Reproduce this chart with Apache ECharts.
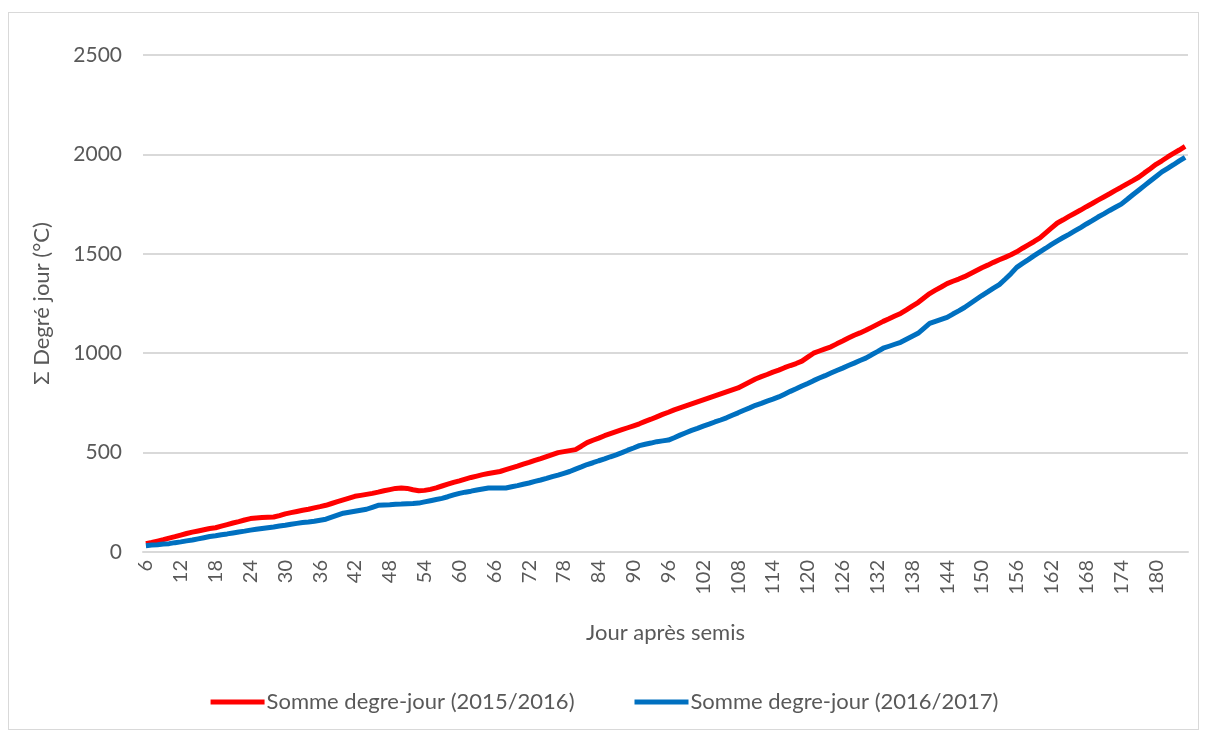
<!DOCTYPE html>
<html>
<head>
<meta charset="utf-8">
<script src="https://cdn.jsdelivr.net/npm/echarts@6/dist/echarts.min.js"></script>
<style>
  html, body { margin: 0; padding: 0; background: #fff; }
  #frame {
    position: absolute; left: 8px; top: 12px; width: 1191px; height: 718px;
    border: 1px solid #d9d9d9; box-sizing: border-box;
  }
  #chart { position: absolute; left: 0; top: 0; width: 1209px; height: 733px; }
</style>
</head>
<body>
<div id="frame"></div>
<div id="chart"></div>
<script>
// jours apres semis : 6 .. 185
const days = Array.from({ length: 180 }, (_, i) => String(i + 6))

const somme2015 = [
  42, 48, 55, 62, 70, 77, 85, 93, 100, 106, 112, 118, 122, 130, 138, 146, 153, 161, 168, 171,
  173, 175, 176, 183, 192, 198, 204, 210, 215, 222, 228, 235, 244, 253, 262, 271, 280, 285, 290, 295,
  301, 308, 314, 320, 322, 320, 313, 308, 310, 315, 323, 332, 341, 350, 358, 367, 375, 382, 389, 395,
  400, 405, 414, 423, 432, 442, 451, 461, 470, 480, 490, 500, 505, 510, 515, 532, 550, 562, 573, 585,
  595, 605, 615, 625, 635, 645, 657, 668, 680, 692, 703, 715, 725, 735, 745, 755, 765, 775, 785, 795,
  805, 815, 825, 840, 855, 870, 882, 893, 905, 915, 927, 938, 948, 960, 980, 1000, 1011, 1022, 1032, 1047,
  1061, 1076, 1090, 1102, 1115, 1130, 1145, 1160, 1173, 1187, 1200, 1218, 1237, 1255, 1278, 1300, 1317, 1333, 1350, 1362,
  1373, 1385, 1400, 1415, 1430, 1443, 1457, 1470, 1482, 1495, 1510, 1528, 1545, 1562, 1580, 1605, 1630, 1655, 1671, 1688,
  1704, 1720, 1737, 1753, 1770, 1786, 1802, 1819, 1835, 1852, 1868, 1885, 1907, 1928, 1950, 1968, 1987, 2005, 2022, 2040
]

const somme2016 = [
  32, 35, 37, 40, 42, 47, 51, 56, 60, 66, 72, 78, 82, 87, 91, 96, 101, 105, 110, 114,
  118, 122, 126, 131, 135, 140, 144, 148, 151, 155, 160, 165, 175, 185, 195, 200, 205, 210, 215, 225,
  235, 237, 238, 240, 241, 243, 244, 246, 252, 258, 264, 270, 278, 287, 295, 301, 306, 312, 317, 322,
  322, 322, 322, 328, 334, 341, 347, 355, 362, 370, 379, 387, 396, 405, 417, 428, 440, 449, 459, 468,
  479, 489, 500, 512, 523, 535, 542, 548, 555, 559, 563, 575, 588, 600, 612, 622, 633, 643, 654, 664,
  675, 688, 700, 713, 725, 738, 748, 759, 769, 780, 794, 808, 821, 835, 848, 862, 875, 887, 900, 913,
  925, 938, 950, 963, 975, 992, 1008, 1025, 1035, 1045, 1055, 1070, 1085, 1100, 1125, 1150, 1160, 1170, 1180, 1197,
  1213, 1230, 1250, 1270, 1290, 1308, 1327, 1345, 1372, 1400, 1432, 1452, 1471, 1491, 1510, 1528, 1547, 1565, 1582, 1598,
  1615, 1632, 1650, 1667, 1685, 1701, 1718, 1734, 1750, 1773, 1797, 1820, 1843, 1866, 1889, 1912, 1930, 1948, 1967, 1985
]

const chart = echarts.init(document.getElementById('chart'))
const font = 'Lato, "Open Sans", sans-serif'
const grey = '#595959'

chart.setOption({
  animation: false,
  textStyle: { fontFamily: font },
  grid: { left: 143, right: 21, top: 55, bottom: 181 },
  legend: {
    top: 686,
    left: 'center',
    itemWidth: 54,
    itemHeight: 5,
    itemGap: 60,
    icon: 'rect',
    textStyle: { color: grey, fontSize: 22, fontFamily: font, padding: [0, 0, 0, -3] },
    data: ['Somme degre-jour (2015/2016)', 'Somme degre-jour (2016/2017)']
  },
  xAxis: {
    type: 'category',
    data: days,
    boundaryGap: true,
    name: 'Jour après semis',
    nameLocation: 'middle',
    nameGap: 70,
    nameTextStyle: { color: grey, fontSize: 22, fontFamily: font },
    axisLine: { lineStyle: { color: '#d9d9d9', width: 2 } },
    axisTick: { show: false },
    axisLabel: {
      interval: 5,
      rotate: 90,
      color: grey,
      fontSize: 20,
      margin: 8,
      fontFamily: font
    }
  },
  yAxis: {
    type: 'value',
    min: 0,
    max: 2500,
    interval: 500,
    name: 'Σ Degré jour (°C)',
    nameLocation: 'middle',
    nameGap: 90,
    nameTextStyle: { color: grey, fontSize: 22, fontFamily: font },
    axisLine: { show: false },
    axisTick: { show: false },
    axisLabel: {
      color: grey,
      fontSize: 21,
      margin: 21,
      fontFamily: font,
      formatter: v => String(v)
    },
    splitLine: { lineStyle: { color: '#d9d9d9', width: 2 } }
  },
  series: [
    {
      name: 'Somme degre-jour (2015/2016)',
      type: 'line',
      data: somme2015,
      showSymbol: false,
      symbol: 'none',
      lineStyle: { color: '#ff0000', width: 5 },
      itemStyle: { color: '#ff0000' }
    },
    {
      name: 'Somme degre-jour (2016/2017)',
      type: 'line',
      data: somme2016,
      showSymbol: false,
      symbol: 'none',
      lineStyle: { color: '#0070c0', width: 5 },
      itemStyle: { color: '#0070c0' }
    }
  ]
})
</script>
</body>
</html>
